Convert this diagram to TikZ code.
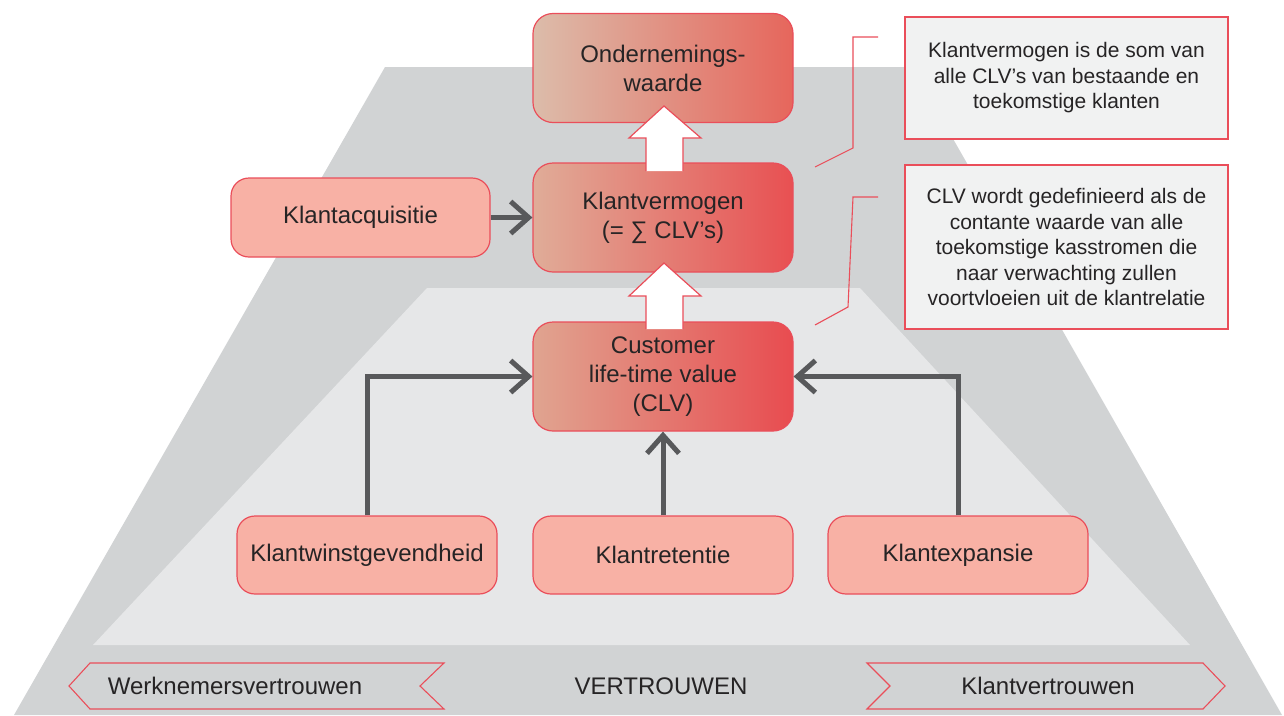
\documentclass[tikz,border=0pt]{standalone}
\usepackage{fontspec}
\setmainfont{Liberation Sans}
\usetikzlibrary{arrows.meta,calc}
\definecolor{outergray}{RGB}{209,211,212}
\definecolor{innergray}{RGB}{230,231,232}
\definecolor{callfill}{RGB}{241,242,242}
\definecolor{redline}{RGB}{234,78,90}
\definecolor{salmon}{RGB}{248,177,165}
\definecolor{txt}{RGB}{38,36,37}
\definecolor{arrowgray}{RGB}{88,89,91}
\definecolor{owA}{RGB}{220,188,170}
\definecolor{owB}{RGB}{230,102,92}
\definecolor{kvA}{RGB}{224,172,152}
\definecolor{kvB}{RGB}{232,80,82}
\definecolor{clA}{RGB}{224,164,144}
\definecolor{clB}{RGB}{232,76,80}
\tikzset{
  mainbox/.style={draw=redline, line width=1.2pt, rounded corners=20pt,
    minimum width=260pt, minimum height=109pt, align=center, text=txt,
    font=\fontsize{24}{29}\selectfont, inner sep=0pt},
  subbox/.style={draw=redline, fill=salmon, line width=1.2pt, rounded corners=18pt,
    minimum width=260pt, minimum height=78pt, align=center, text=txt,
    font=\fontsize{24}{29}\selectfont, inner sep=0pt},
  callout/.style={draw=redline, fill=callfill, line width=1.2pt,
    minimum width=323pt, align=center, text=txt,
    font=\fontsize{21}{25.5}\selectfont, inner sep=0pt},
  callline/.style={draw=redline, line width=1.1pt},
  garrow/.style={draw=arrowgray, line width=5pt,
    -{Straight Barb[length=18pt,width=32pt]}},
  blockfill/.style={fill=white},
  blockline/.style={draw=redline, line width=1.2pt},
  ribbon/.style={draw=redline, line width=1.1pt},
  ribtext/.style={text=txt, font=\fontsize{24}{29}\selectfont, inner sep=0pt}
}
\begin{document}
\begin{tikzpicture}[x=1pt,y=-1pt]
\useasboundingbox (0,0) rectangle (1284,715);
% background trapezoids
\fill[outergray] (385,67) -- (912,67) -- (1282,715) -- (14,715) -- cycle;
\fill[innergray] (427,288) -- (860,288) -- (1190,645) -- (93,645) -- cycle;

% ribbons
\draw[ribbon] (90,663) -- (444,663) -- (420,686) -- (444,709) -- (90,709) -- (69,686) -- cycle;
\draw[ribbon] (867,663) -- (1203,663) -- (1225,686) -- (1203,709) -- (867,709) -- (890,686) -- cycle;
\node[ribtext] (wv) at (235,686) {Werknemersvertrouwen};
\node[ribtext] (vt) at (661,686) {VERTROUWEN};
\node[ribtext] (kt) at (1048,686) {Klantvertrouwen};

% main boxes
\node[mainbox, left color=owA, right color=owB] (ow) at (663,68) {Ondernemings-\\waarde};
\node[mainbox, left color=kvA, right color=kvB] (kv) at (663,217.5) {Klantvermogen\\(= ∑ CLV’s)};
\node[mainbox, left color=clA, right color=clB] (clv) at (663,376.5) {Customer\\life-time value\\(CLV)};

% side boxes
\node[subbox, minimum width=259pt, minimum height=79pt] (ka) at (360.5,217.5) {Klantacquisitie};
\node[subbox] (kw) at (367,555) {Klantwinstgevendheid};
\node[subbox] (kr) at (663,555) {Klantretentie};
\node[subbox] (ke) at (958,555) {Klantexpansie};

% gray arrows
\draw[garrow] (ka.east) -- (kv.west);
\draw[garrow] (kw.north) |- (clv.west);
\draw[garrow] (ke.north) |- (clv.east);
\draw[garrow] (kr.north) -- (clv.south);

% block arrows
\fill[blockfill] (646,171) -- (646,138) -- (629,138) -- (664,106) -- (701,138) -- (683,138) -- (683,171) -- cycle;
\draw[blockline] (646,171) -- (646,138) -- (629,138) -- (664,106) -- (701,138) -- (683,138) -- (683,171);
\fill[blockfill] (646,329) -- (646,296) -- (629,296) -- (664,263) -- (701,296) -- (683,296) -- (683,329) -- cycle;
\draw[blockline] (646,329) -- (646,296) -- (629,296) -- (664,263) -- (701,296) -- (683,296) -- (683,329);

% callouts
\node[callout, minimum height=122pt] (c1) at (1066.5,78) {Klantvermogen is de som van\\alle CLV’s van bestaande en\\toekomstige klanten};
\node[callout, minimum height=164pt] (c2) at (1066.5,247) {CLV wordt gedefinieerd als de\\contante waarde van alle\\toekomstige kasstromen die\\naar verwachting zullen\\voortvloeien uit de klantrelatie};

\coordinate (l1a) at (878,37);
\coordinate (l1b) at (853,37);
\coordinate (l1c) at (853,148);
\coordinate (l1d) at (815,167);
\draw[callline] (l1a) -- (l1b) -- (l1c) -- (l1d);
\coordinate (l2a) at (878,197);
\coordinate (l2b) at (853,197);
\coordinate (l2c) at (848,307);
\coordinate (l2d) at (815,325);
\draw[callline] (l2a) -- (l2b) -- (l2c) -- (l2d);
\end{tikzpicture}
\end{document}
